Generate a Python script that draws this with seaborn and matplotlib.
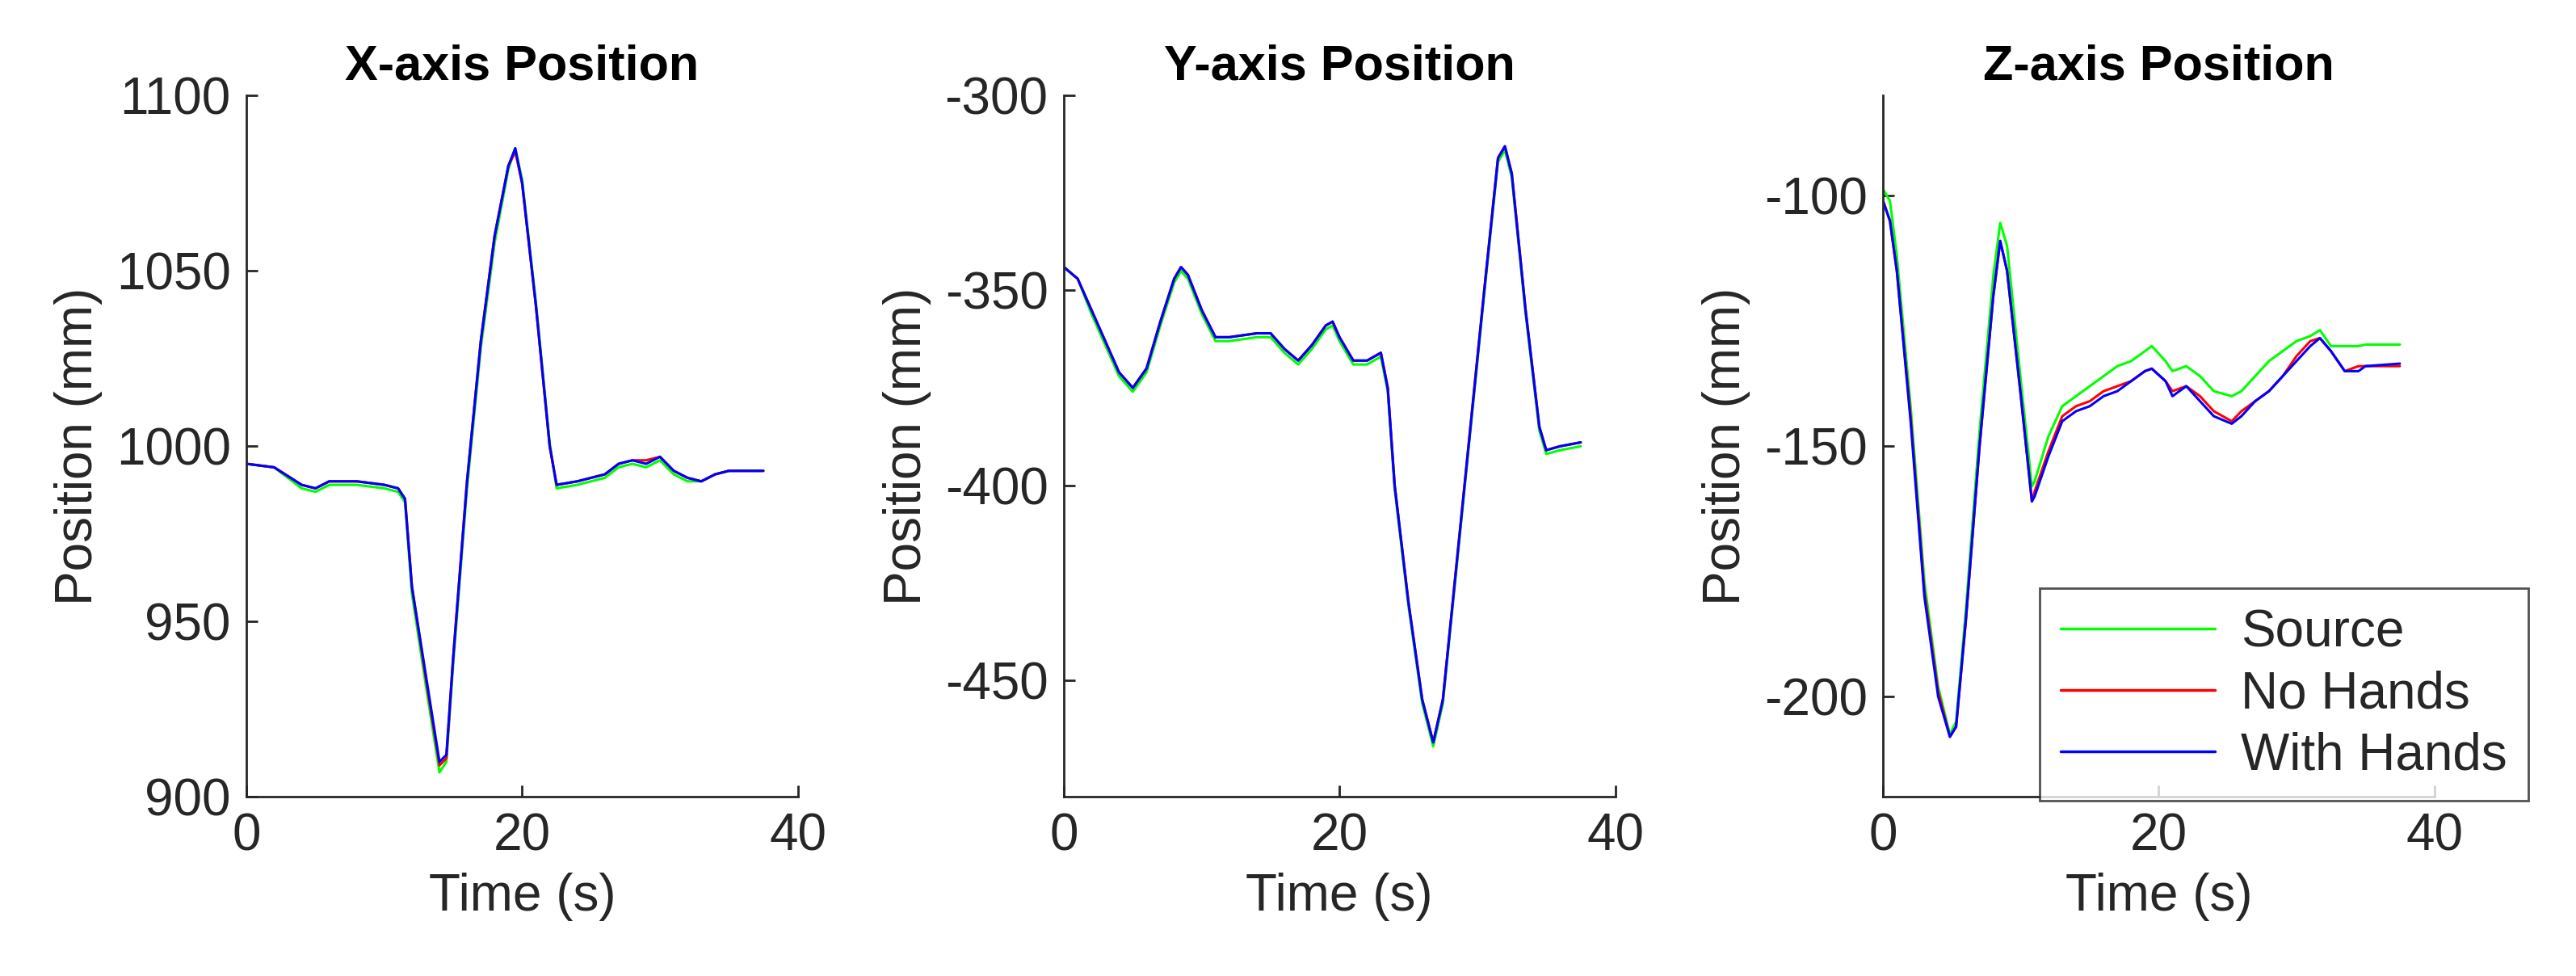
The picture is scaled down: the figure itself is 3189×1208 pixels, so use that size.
import matplotlib
matplotlib.use("Agg")
import matplotlib.pyplot as plt
import seaborn as sns
import pandas as pd

sns.set_theme(style="ticks")
plt.rcParams['font.family'] = ['Liberation Sans', 'DejaVu Sans']
plt.rcParams['axes.unicode_minus'] = False

# X-axis
tx = [0, 2, 4, 5, 6, 8, 10, 11, 11.5, 12, 13, 14, 14.5, 15, 16, 17, 18, 19, 19.5, 20, 21, 22, 22.5, 24, 26, 27, 28, 29, 30, 31, 32, 33, 34, 35, 37.5]
x_with = [995, 994, 989, 988, 990, 990, 989, 988, 985, 960, 935, 910, 912, 940, 990, 1030, 1060, 1080, 1085, 1075, 1040, 1000, 989, 990, 992, 995, 996, 995, 997, 993, 991, 990, 992, 993, 993]
x_nohands = [995, 994, 989, 988, 990, 990, 989, 988, 985, 960, 934, 909, 911, 940, 990, 1030, 1060, 1080, 1084, 1075, 1040, 1000, 989, 990, 992, 995, 996, 996, 997, 993, 991, 990, 992, 993, 993]
x_source = [995, 994, 988, 987, 989, 989, 988, 987, 984, 958, 932, 907, 910, 938, 988, 1028, 1058, 1079, 1085, 1076, 1041, 1001, 988, 989, 991, 994, 995, 994, 996, 992, 990, 990, 992, 993, 993]

# Y-axis
ty = [0, 1, 2, 3, 4, 5, 6, 7, 8, 8.5, 9, 10, 11, 12, 14, 15, 16, 17, 18, 19, 19.5, 20, 21, 22, 23, 23.5, 24, 25, 26, 26.8, 27.5, 28.5, 29.5, 30.5, 31.5, 32, 32.5, 33.5, 34.5, 35, 36, 37.5]
y_with = [-344, -347, -355, -363, -371, -375, -370, -358, -347, -344, -346, -355, -362, -362, -361, -361, -365, -368, -364, -359, -358, -362, -368, -368, -366, -375, -400, -430, -455, -466, -455, -420, -385, -350, -316, -313, -320, -355, -385, -391, -390, -389]
y_nohands = [-344, -347, -355, -363, -371, -375, -370, -358, -347, -344, -346, -355, -362, -362, -361, -361, -365, -368, -364, -359, -358, -362, -368, -368, -366, -375, -400, -430, -455, -466, -455, -420, -385, -350, -316, -313, -320, -355, -385, -391, -390, -389]
y_source = [-344, -347, -356, -364, -372, -376, -371, -359, -348, -345, -347, -356, -363, -363, -362, -362, -366, -369, -365, -360, -359, -363, -369, -369, -367, -376, -401, -431, -456, -467, -456, -421, -386, -351, -317, -314, -321, -356, -386, -392, -391, -390]

# Z-axis
tz = [0, 0.5, 1, 2, 3, 4, 4.85, 5.3, 6, 7, 8, 8.5, 9, 10, 10.8, 11, 12, 13, 14, 15, 16, 17, 18, 19, 19.5, 20.5, 21, 22, 23, 24, 25.3, 26, 27, 28, 29, 30, 31, 31.7, 32.5, 33.5, 34.5, 35, 37.5]
z_with = [-101, -105, -115, -145, -180, -200, -208, -206, -185, -150, -120, -109, -115, -140, -161, -160, -152, -145, -143, -142, -140, -139, -137, -135, -134.5, -137, -140, -138, -141, -144, -145.5, -144, -141, -139, -136, -133, -130, -128.4, -131, -135, -135, -134, -133.5]
z_nohands = [-101, -105, -115, -144, -179, -199, -208, -206, -185, -150, -120, -109, -115, -140, -161, -159, -151, -144, -142, -141, -139, -138, -137, -135, -134.5, -137, -139, -138, -140, -143, -145, -143, -141, -139, -136, -132, -129, -128.4, -131, -135, -134, -134, -134]
z_source = [-98.7, -101, -112, -142, -177, -198, -207.5, -205, -183, -147, -116, -105.4, -110, -137, -158, -157, -148, -142, -140, -138, -136, -134, -133, -131, -130, -133, -135, -134, -136, -139, -140, -139, -136, -133, -131, -129, -128, -126.8, -130, -130, -130, -129.7, -129.7]

panels = [
    ("X-axis Position", tx, x_source, x_nohands, x_with, (900, 1100), [900, 950, 1000, 1050, 1100]),
    ("Y-axis Position", ty, y_source, y_nohands, y_with, (-480, -300), [-450, -400, -350, -300]),
    ("Z-axis Position", tz, z_source, z_nohands, z_with, (-220, -80), [-200, -150, -100]),
]
labels = ["Source", "No Hands", "With Hands"]
colors = {"Source": "#00ff00", "No Hands": "#ff0000", "With Hands": "#0000ff"}

FS = 46
fig = plt.figure(figsize=(31.89, 12.08), dpi=100)
lefts = [0.0957, 0.413, 0.731]
for i, (title, t, s, n, w, ylim, yticks) in enumerate(panels):
    ax = fig.add_axes([lefts[i], 0.1835, 0.214, 0.7185])
    frames = []
    for lab, vals in zip(labels, [s, n, w]):
        frames.append(pd.DataFrame({"t": t, "v": vals, "series": lab}))
    df = pd.concat(frames)
    sns.lineplot(data=df, x="t", y="v", hue="series", palette=colors, ax=ax,
                 linewidth=2.2, legend=(i == 2), sort=False)
    ax.set_xlim(0, 40)
    ax.set_ylim(*ylim)
    ax.set_xticks([0, 20, 40])
    ax.set_yticks(yticks)
    ax.set_title(title, fontsize=44, fontweight="bold", pad=14, color="black")
    ax.set_xlabel("Time (s)", fontsize=FS, color="#262626", labelpad=10)
    ax.set_ylabel("Position (mm)", fontsize=FS, color="#262626", labelpad=12)
    ax.tick_params(direction="in", labelsize=FS, length=10, width=2, colors="#262626", pad=14)
    for sp in ["top", "right"]:
        ax.spines[sp].set_visible(False)
    for sp in ["left", "bottom"]:
        ax.spines[sp].set_linewidth(2)
        ax.spines[sp].set_color("#262626")
    if i == 2:
        leg = ax.legend(loc="lower right", fontsize=FS, frameon=True, fancybox=False,
                        edgecolor="#262626", handlelength=3.0, borderaxespad=0.0,
                        labelspacing=0.25, handletextpad=0.5, borderpad=0.4,
                        bbox_to_anchor=(1.17, -0.005))
        leg.get_frame().set_linewidth(2)
        for l in leg.get_lines():
            l.set_linewidth(2.5)
fig.savefig("out.png", dpi=100, facecolor="white")
